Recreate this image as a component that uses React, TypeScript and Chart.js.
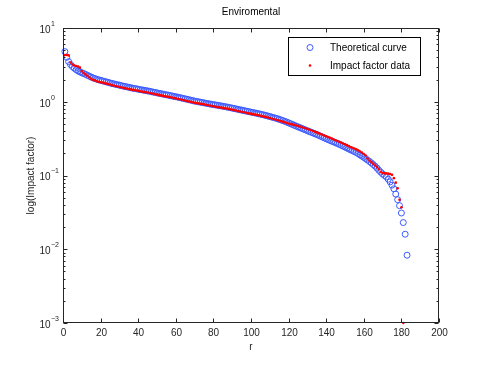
import { useEffect, useRef } from 'react';
import { Chart, registerables } from 'chart.js';

Chart.register(...registerables);

const chartTitle = 'Enviromental';
const xAxisLabel = 'r';
const yAxisLabel = 'log(Impact factor)';
const theoryLabel = 'Theoretical curve';
const impactLabel = 'Impact factor data';

const xTicks = [0, 20, 40, 60, 80, 100, 120, 140, 160, 180, 200];
const yExponents = [-3, -2, -1, 0, 1];

// Theoretical curve, r = 1..183
const theoryValues = [
  4.78, 4.0, 3.5, 3.2, 3.0, 2.85, 2.72, 2.62, 2.54, 2.47,
  2.41, 2.35, 2.28, 2.22, 2.16, 2.10, 2.06, 2.02, 1.98, 1.95,
  1.92, 1.89, 1.86, 1.83, 1.80, 1.77, 1.75, 1.72, 1.70, 1.68,
  1.65, 1.63, 1.61, 1.59, 1.57, 1.55, 1.53, 1.51, 1.50, 1.48,
  1.46, 1.45, 1.43, 1.42, 1.40, 1.39, 1.37, 1.35, 1.34, 1.32,
  1.30, 1.29, 1.27, 1.26, 1.24, 1.23, 1.21, 1.20, 1.18, 1.17,
  1.155, 1.14, 1.125, 1.11, 1.095, 1.08, 1.065, 1.05, 1.035, 1.02,
  1.01, 0.999, 0.988, 0.977, 0.966, 0.955, 0.944, 0.933, 0.924, 0.915,
  0.906, 0.897, 0.888, 0.879, 0.87, 0.86, 0.85, 0.84, 0.83, 0.82,
  0.81, 0.80, 0.79, 0.78, 0.77, 0.76, 0.751, 0.742, 0.733, 0.724,
  0.715, 0.706, 0.697, 0.688, 0.68, 0.67, 0.66, 0.65, 0.64, 0.63,
  0.62, 0.61, 0.60, 0.59, 0.578, 0.566, 0.554, 0.542, 0.53, 0.518,
  0.505, 0.492, 0.48, 0.468, 0.457, 0.446, 0.435, 0.425, 0.415, 0.405,
  0.395, 0.386, 0.377, 0.368, 0.359, 0.35, 0.341, 0.332, 0.323, 0.315,
  0.307, 0.299, 0.292, 0.285, 0.278, 0.271, 0.264, 0.257, 0.25, 0.243,
  0.236, 0.229, 0.223, 0.217, 0.211, 0.205, 0.198, 0.19, 0.183, 0.176,
  0.169, 0.162, 0.155, 0.148, 0.141, 0.134, 0.126, 0.118, 0.111, 0.105,
  0.10, 0.096, 0.089, 0.082, 0.074, 0.066, 0.056, 0.047, 0.039, 0.031,
  0.023, 0.016, 0.0083,
];

// Impact factor data, r = 1..181
const impactValues = [
  4.3, 4.3, 4.25, 3.4, 3.2, 3.1, 3.05, 3.0, 2.9, 2.6,
  2.45, 2.35, 2.25, 2.15, 2.05, 1.98, 1.95, 1.9, 1.87, 1.84,
  1.82, 1.79, 1.76, 1.74, 1.71, 1.68, 1.66, 1.63, 1.61, 1.59,
  1.57, 1.55, 1.53, 1.51, 1.49, 1.47, 1.45, 1.44, 1.42, 1.41,
  1.39, 1.37, 1.36, 1.35, 1.33, 1.32, 1.30, 1.29, 1.27, 1.25,
  1.24, 1.22, 1.21, 1.19, 1.18, 1.17, 1.15, 1.14, 1.12, 1.11,
  1.10, 1.08, 1.07, 1.055, 1.04, 1.025, 1.01, 1.0, 0.985, 0.97,
  0.96, 0.95, 0.94, 0.93, 0.92, 0.91, 0.90, 0.89, 0.88, 0.87,
  0.86, 0.85, 0.845, 0.835, 0.825, 0.815, 0.81, 0.80, 0.79, 0.78,
  0.77, 0.76, 0.75, 0.74, 0.73, 0.725, 0.715, 0.705, 0.695, 0.69,
  0.68, 0.67, 0.665, 0.655, 0.645, 0.637, 0.628, 0.62, 0.61, 0.60,
  0.592, 0.583, 0.574, 0.565, 0.556, 0.546, 0.537, 0.528, 0.518, 0.508,
  0.50, 0.493, 0.485, 0.477, 0.468, 0.46, 0.452, 0.444, 0.436, 0.428,
  0.42, 0.411, 0.402, 0.393, 0.384, 0.375, 0.366, 0.357, 0.348, 0.34,
  0.332, 0.324, 0.316, 0.308, 0.3, 0.293, 0.286, 0.279, 0.272, 0.265,
  0.258, 0.251, 0.244, 0.238, 0.232, 0.226, 0.219, 0.212, 0.204, 0.196,
  0.187, 0.17, 0.16, 0.152, 0.145, 0.138, 0.13, 0.122, 0.112, 0.108,
  0.107, 0.107, 0.106, 0.105, 0.102, 0.092, 0.080, 0.067, 0.047, 0.037,
  0.001,
];

const FONT = '"Liberation Sans", Arial, Helvetica, sans-serif';
const AXIS_COLOR = '#262626';
const BLUE = 'rgb(60, 90, 255)';
const RED = 'rgb(255, 0, 0)';

const matlabAxes = {
  id: 'matlabAxes',
  afterDraw(chart: any) {
    const { ctx, chartArea } = chart;
    const xs = chart.scales.x;
    const ys = chart.scales.y;
    const L = Math.round(chartArea.left) + 0.5;
    const R = Math.round(chartArea.right) - 0.5;
    const T = Math.round(chartArea.top) + 0.5;
    const B = Math.round(chartArea.bottom) - 0.5;
    ctx.save();
    ctx.strokeStyle = AXIS_COLOR;
    ctx.fillStyle = AXIS_COLOR;
    ctx.lineWidth = 1;
    ctx.strokeRect(L, T, R - L, B - T);

    ctx.beginPath();
    ctx.font = `10px ${FONT}`;
    ctx.textAlign = 'center';
    ctx.textBaseline = 'middle';
    for (const t of xTicks) {
      const px = Math.round(xs.getPixelForValue(t)) + 0.5;
      ctx.moveTo(px, B);
      ctx.lineTo(px, B - 4);
      ctx.moveTo(px, T);
      ctx.lineTo(px, T + 4);
      ctx.fillText(String(t), px, 333);
    }
    for (const e of yExponents) {
      const py = Math.round(ys.getPixelForValue(Math.pow(10, e))) + 0.5;
      ctx.moveTo(L, py);
      ctx.lineTo(L + 4, py);
      ctx.moveTo(R, py);
      ctx.lineTo(R - 4, py);
      if (e < yExponents[yExponents.length - 1]) {
        for (let m = 2; m <= 9; m++) {
          const pm = Math.round(ys.getPixelForValue(m * Math.pow(10, e))) + 0.5;
          ctx.moveTo(L, pm);
          ctx.lineTo(L + 2, pm);
          ctx.moveTo(R, pm);
          ctx.lineTo(R - 2, pm);
        }
      }
    }
    ctx.stroke();

    for (const e of yExponents) {
      const py = ys.getPixelForValue(Math.pow(10, e));
      ctx.font = `10px ${FONT}`;
      ctx.textAlign = 'right';
      ctx.textBaseline = 'middle';
      ctx.fillText('10', 50.5, py + 2);
      ctx.font = `7px ${FONT}`;
      ctx.textAlign = 'left';
      ctx.fillText(e < 0 ? '\u2212' + String(-e) : String(e), 51, py - 4);
    }

    ctx.font = `10px ${FONT}`;
    ctx.textAlign = 'center';
    ctx.textBaseline = 'middle';
    ctx.fillStyle = '#000';
    ctx.fillText(chartTitle, (L + R) / 2, 12.5);
    ctx.fillStyle = AXIS_COLOR;
    ctx.fillText(xAxisLabel, (L + R) / 2, 347);
    ctx.save();
    ctx.translate(31, (T + B) / 2);
    ctx.rotate(-Math.PI / 2);
    ctx.fillText(yAxisLabel, 0, 0);
    ctx.restore();

    // legend
    const lx = 288.5, ly = 37.5, lw = 132, lh = 38;
    ctx.fillStyle = '#fff';
    ctx.fillRect(lx, ly, lw, lh);
    ctx.strokeStyle = '#000';
    ctx.strokeRect(lx, ly, lw, lh);
    ctx.strokeStyle = BLUE;
    ctx.beginPath();
    ctx.arc(310, 47.5, 3, 0, Math.PI * 2);
    ctx.stroke();
    ctx.fillStyle = RED;
    ctx.beginPath();
    ctx.arc(310, 65.5, 1.3, 0, Math.PI * 2);
    ctx.fill();
    ctx.fillStyle = '#000';
    ctx.font = `10px ${FONT}`;
    ctx.textAlign = 'left';
    ctx.textBaseline = 'middle';
    const labels = chart.data.datasets.map((d: any) => d.label);
    ctx.fillText(labels[0], 330, 48);
    ctx.fillText(labels[1], 330, 66);
    ctx.restore();
  },
};

export default function App() {
  const canvasRef = useRef<HTMLCanvasElement | null>(null);

  useEffect(() => {
    const canvas = canvasRef.current;
    if (!canvas) return;
    const chart = new Chart(canvas, {
      type: 'scatter',
      data: {
        datasets: [
          {
            label: theoryLabel,
            data: theoryValues.map((v, i) => ({ x: i + 1, y: v })),
            pointStyle: 'circle',
            pointRadius: 3,
            pointBorderWidth: 1,
            pointBorderColor: BLUE,
            pointBackgroundColor: 'rgba(0,0,0,0)',
            showLine: false,
            order: 2,
            clip: false,
          },
          {
            label: impactLabel,
            data: impactValues.map((v, i) => ({ x: i + 1, y: v })),
            pointStyle: 'circle',
            pointRadius: 1.3,
            pointBorderWidth: 0,
            pointBackgroundColor: RED,
            pointBorderColor: RED,
            showLine: false,
            order: 1,
            clip: false,
          },
        ],
      },
      options: {
        responsive: false,
        animation: false,
        devicePixelRatio: 1,
        layout: { padding: { left: 63, right: 46, top: 28, bottom: 42 } },
        scales: {
          x: { type: 'linear', min: 0, max: 200, display: false },
          y: { type: 'logarithmic', min: 0.001, max: 10, display: false },
        },
        plugins: {
          legend: { display: false },
          tooltip: { enabled: false },
          title: { display: false },
        },
      },
      plugins: [matlabAxes],
    } as any);
    return () => chart.destroy();
  }, []);

  return (
    <div style={{ position: 'absolute', left: 0, top: 0, width: 485, height: 365, background: '#fff' }}>
      <canvas ref={canvasRef} width={485} height={365} style={{ display: 'block' }} />
    </div>
  );
}
